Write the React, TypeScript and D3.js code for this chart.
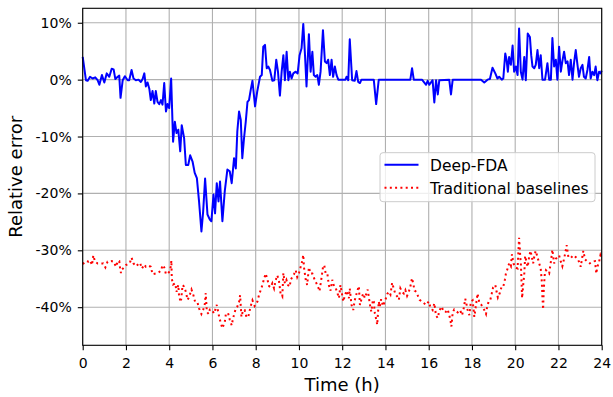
import React, { useEffect, useRef } from 'react';
import * as d3 from 'd3';

// Deep-FDA relative error (%) over the day
const deepFdaHours = [
  0, 0.15, 0.23, 0.34, 0.46, 0.58, 0.69, 0.77, 0.89, 1.0, 1.11, 1.23, 1.34, 1.43, 1.51, 1.62, 1.69, 1.75, 1.85, 1.95,
  2.08, 2.15, 2.26, 2.35, 2.46, 2.58, 2.69, 2.77, 2.85, 2.92, 3.0, 3.08, 3.15, 3.23, 3.31, 3.38, 3.46, 3.54, 3.62, 3.69,
  3.77, 3.85, 3.92, 4.0, 4.09, 4.18, 4.26, 4.34, 4.42, 4.51, 4.58, 4.69, 4.77, 4.88, 4.97, 5.08, 5.18, 5.28, 5.38, 5.49,
  5.57, 5.66, 5.77, 5.88, 5.95, 6.05, 6.12, 6.2, 6.28, 6.35, 6.46, 6.57, 6.69, 6.8, 6.89, 7.0, 7.08, 7.15, 7.23, 7.31,
  7.38, 7.46, 7.54, 7.62, 7.69, 7.77, 7.85, 7.97, 8.07, 8.2, 8.28, 8.35, 8.43, 8.51, 8.58, 8.66, 8.77, 8.86, 8.95, 9.03,
  9.12, 9.2, 9.28, 9.35, 9.43, 9.51, 9.58, 9.66, 9.74, 9.85, 9.94, 10.03, 10.12, 10.2, 10.28, 10.35, 10.46, 10.54, 10.62, 10.69,
  10.77, 10.85, 10.92, 11.0, 11.11, 11.2, 11.28, 11.35, 11.43, 11.51, 11.58, 11.66, 11.74, 11.82, 12.15, 12.2, 12.28, 12.35, 12.46, 12.58,
  12.66, 12.74, 12.82, 12.89, 13.46, 13.57, 13.69, 15.15, 15.23, 15.31, 15.69, 15.88, 15.95, 16.03, 16.18, 16.26, 16.34, 16.42, 16.49, 16.95,
  17.03, 17.11, 18.42, 18.57, 18.72, 18.83, 18.95, 19.08, 19.18, 19.26, 19.38, 19.45, 19.54, 19.6, 19.66, 19.72, 19.8, 19.88, 19.95, 20.03,
  20.11, 20.18, 20.26, 20.34, 20.42, 20.49, 20.58, 20.68, 20.74, 20.8, 20.88, 20.95, 21.03, 21.11, 21.18, 21.26, 21.38, 21.49, 21.57, 21.65,
  21.72, 21.8, 21.88, 21.95, 22.03, 22.11, 22.18, 22.26, 22.34, 22.42, 22.49, 22.57, 22.65, 22.72, 22.8, 22.88, 22.95, 23.03, 23.11, 23.18,
  23.26, 23.34, 23.42, 23.49, 23.57, 23.65, 23.72, 23.8, 23.88, 23.95, 24.0
];
const deepFdaError = [
  4.0, -0.1, -0.2, 0.5, 0.2, 0.4, -0.1, -0.9, 0.8, -0.5, 1.1, 0.5, 1.9, 1.8, 0.1, 0.5, 0.7, -3.2, -0.1, 0.6,
  -0.1, -0.1, 1.7, 0.2, -0.1, 0, -0.4, 0.1, 1.1, -1.2, -0.5, -1.6, -3.6, -2.0, -4.2, -2.0, -3.9, -4.3, -3.6, -4.4,
  -0.6, -5.6, -4.3, -5.0, 0.2, -10.9, -7.4, -9.4, -8.8, -12.6, -8.0, -10.3, -15.0, -15.0, -13.3, -14.4, -16.4, -17.3, -21.4, -26.7,
  -23.2, -17.4, -23.7, -24.6, -24.9, -20.2, -23.5, -18.2, -21.4, -17.9, -24.9, -19.6, -15.8, -16.1, -18.2, -13.8, -15.6, -9.1, -5.6, -7.1,
  -13.8, -10.3, -7.4, -3.9, -3.6, -1.8, -0.2, -4.7, -2.1, 0.5, 0.8, 5.8, 6.1, 2.0, 2.3, 1.7, -0.2, -0.1, 3.5, 1.4,
  -2.8, 1.4, 4.3, -0.1, 4.9, -0.1, 1.4, 0.2, 1.1, 1.4, 1.1, 4.3, 5.5, 9.8, 4.3, -1.2, 8.0, 1.4, 4.9, 0.8,
  0.5, 0.8, -0.9, 1.4, 8.7, 3.2, 2.9, 3.5, 0.8, 3.5, 0.5, 2.3, 0.8, 0, 0, 0.5, -0.1, 7.1, -0.1, -0.2,
  1.5, -0.4, -0.6, 0, 0, -4.3, 0, 0, 2.0, 0, 0, -0.9, -0.2, -0.9, -0.1, -4.0, -0.1, -2.6, -0.1, 0,
  -2.6, 0, 0, -0.5, 0, 0.1, 2.1, 1.1, 0.2, 0.5, 0, 0.2, 4.6, 3.5, 1.4, 4.0, 2.6, 6.0, 1.4, 2.3,
  0.8, 9.0, 1.4, 0, 4.0, -0.1, 8.1, 7.5, 4.3, 2.3, 2.0, 2.6, 5.2, 2.0, 4.3, 0, 0, 2.9, 0, 0,
  7.3, 2.3, 3.5, 0, 5.8, 1.4, 3.2, 4.9, 2.9, 3.2, 0.8, 3.5, 0, 2.9, 5.2, 2.6, 0.5, 2.0, 2.6, 0.5,
  0.2, 1.7, 4.0, 0.2, 1.4, 0.8, 2.3, -0.1, 1.4, 1.1, 1.6
];

// Traditional baselines relative error (%)
const baselineHours = [
  0, 0.08, 0.15, 0.28, 0.35, 0.43, 0.49, 0.57, 0.69, 0.8, 0.95, 1.05, 1.15, 1.26, 1.34, 1.43, 1.54, 1.62, 1.69, 1.72,
  1.77, 1.82, 2.0, 2.18, 2.26, 2.35, 2.46, 2.65, 2.74, 2.85, 2.92, 3.03, 3.15, 3.23, 3.46, 3.62, 3.69, 3.77, 3.85, 3.92,
  4.0, 4.08, 4.1, 4.12, 4.18, 4.28, 4.34, 4.42, 4.46, 4.54, 4.62, 4.69, 4.77, 4.85, 4.92, 5.03, 5.12, 5.2, 5.31, 5.38,
  5.49, 5.57, 5.65, 5.69, 5.74, 5.82, 5.88, 5.95, 6.08, 6.15, 6.2, 6.31, 6.38, 6.46, 6.51, 6.57, 6.62, 6.72, 6.8, 6.89,
  6.95, 7.08, 7.15, 7.23, 7.28, 7.34, 7.42, 7.49, 7.57, 7.65, 7.77, 7.85, 7.95, 8.08, 8.15, 8.23, 8.31, 8.38, 8.46, 8.54,
  8.62, 8.69, 8.77, 8.85, 8.92, 9.0, 9.08, 9.15, 9.23, 9.28, 9.35, 9.42, 9.49, 9.57, 9.62, 9.69, 9.77, 9.85, 9.92, 10.0,
  10.08, 10.15, 10.2, 10.23, 10.31, 10.38, 10.46, 10.54, 10.62, 10.72, 10.82, 10.89, 10.95, 11.03, 11.11, 11.17, 11.23, 11.31, 11.38, 11.46,
  11.54, 11.62, 11.69, 11.77, 11.85, 11.92, 12.05, 12.12, 12.2, 12.31, 12.35, 12.43, 12.51, 12.58, 12.65, 12.72, 12.77, 12.82, 12.89, 12.97,
  13.05, 13.11, 13.18, 13.26, 13.31, 13.35, 13.42, 13.46, 13.51, 13.57, 13.62, 13.69, 13.74, 13.8, 13.89, 14.0, 14.08, 14.15, 14.23, 14.31,
  14.38, 14.46, 14.54, 14.62, 14.69, 14.77, 14.85, 14.92, 15.0, 15.08, 15.15, 15.23, 15.28, 15.35, 15.43, 15.51, 15.58, 15.75, 15.88, 16.0,
  16.08, 16.18, 16.26, 16.34, 16.42, 16.49, 16.6, 16.69, 16.8, 16.88, 16.95, 17.0, 17.05, 17.11, 17.18, 17.34, 17.45, 17.54, 17.62, 17.69,
  17.75, 17.8, 17.88, 17.95, 18.03, 18.11, 18.18, 18.26, 18.34, 18.42, 18.57, 18.65, 18.69, 18.77, 18.85, 18.91, 18.98, 19.08, 19.14, 19.2,
  19.29, 19.37, 19.45, 19.52, 19.57, 19.65, 19.72, 19.8, 19.85, 19.92, 20.0, 20.11, 20.18, 20.2, 20.22, 20.23, 20.26, 20.29, 20.31, 20.32,
  20.37, 20.42, 20.46, 20.52, 20.58, 20.65, 20.71, 20.77, 20.83, 20.89, 20.95, 21.03, 21.11, 21.18, 21.23, 21.26, 21.28, 21.29, 21.32, 21.37,
  21.42, 21.49, 21.57, 21.65, 21.72, 21.8, 21.88, 21.95, 22.03, 22.11, 22.18, 22.26, 22.34, 22.38, 22.46, 22.57, 22.65, 22.72, 22.8, 22.88,
  22.95, 23.03, 23.11, 23.15, 23.23, 23.34, 23.45, 23.57, 23.69, 23.75, 23.8, 23.88, 23.94, 24.0
];
const baselineError = [
  -32.4, -32.2, -31.9, -32.0, -31.8, -32.6, -30.9, -32.0, -32.3, -32.3, -32.3, -33.0, -32.0, -32.0, -31.9, -32.0, -32.9, -31.9, -31.9, -32.9,
  -34.0, -33.4, -32.6, -32.2, -31.3, -32.3, -32.8, -32.2, -33.2, -32.5, -32.9, -32.7, -32.9, -34.2, -34.0, -33.6, -32.6, -33.0, -34.2, -34.1,
  -33.8, -32.8, -31.8, -35.0, -36.0, -35.8, -37.3, -36.1, -38.2, -39.1, -36.1, -36.4, -37.3, -38.7, -38.2, -36.9, -37.9, -39.1, -39.2, -40.2,
  -41.2, -40.5, -39.4, -37.5, -40.8, -41.2, -40.4, -40.4, -41.1, -40.2, -39.6, -41.7, -42.7, -43.7, -43.2, -42.6, -41.2, -41.0, -42.2, -43.2,
  -42.0, -40.2, -39.9, -39.1, -37.9, -41.7, -40.5, -40.5, -41.7, -41.8, -39.8, -38.8, -39.8, -39.0, -37.9, -37.0, -36.1, -35.1, -34.1, -35.1,
  -36.3, -36.5, -35.8, -36.7, -35.3, -34.4, -35.5, -37.6, -38.1, -34.0, -35.8, -35.2, -36.1, -36.4, -35.2, -34.7, -34.2, -33.5, -34.7, -34.0,
  -32.9, -31.9, -30.8, -32.9, -35.1, -36.1, -33.0, -34.1, -34.1, -35.1, -35.9, -36.5, -37.2, -35.2, -33.0, -32.6, -34.0, -34.0, -36.1, -37.1,
  -35.2, -36.3, -36.5, -37.4, -38.4, -36.1, -39.0, -38.0, -37.1, -38.4, -36.7, -39.6, -40.5, -38.8, -37.8, -36.9, -36.3, -39.6, -38.6, -37.6,
  -38.4, -37.7, -36.9, -39.0, -40.2, -40.8, -38.7, -39.0, -41.1, -42.1, -43.1, -39.0, -39.9, -38.6, -39.8, -38.7, -37.7, -37.3, -37.8, -35.7,
  -36.7, -37.7, -38.1, -38.7, -36.7, -37.3, -37.6, -37.0, -38.0, -37.3, -36.4, -34.9, -35.8, -37.1, -37.3, -38.1, -38.7, -39.2, -39.6, -39.0,
  -40.0, -40.5, -39.3, -41.5, -41.9, -40.6, -39.9, -40.8, -40.8, -40.4, -41.4, -42.2, -43.4, -40.9, -40.4, -40.9, -40.5, -41.4, -40.2, -38.5,
  -39.5, -40.5, -41.4, -39.0, -38.8, -41.7, -39.8, -37.6, -39.2, -39.5, -40.5, -41.2, -40.2, -39.0, -38.7, -37.7, -36.5, -36.1, -37.3, -38.3,
  -37.5, -36.4, -36.4, -35.2, -34.1, -33.2, -32.3, -32.8, -30.7, -32.3, -33.0, -33.2, -27.8, -29.0, -30.0, -31.0, -32.2, -35.2, -37.4, -38.4,
  -36.1, -34.1, -31.0, -32.0, -32.9, -31.0, -30.1, -31.2, -32.3, -30.9, -30.1, -31.2, -32.3, -33.2, -35.5, -38.4, -39.6, -40.4, -37.0, -34.1,
  -33.5, -33.8, -34.1, -32.0, -29.9, -32.3, -31.5, -31.2, -30.9, -32.0, -32.8, -31.5, -30.0, -29.1, -31.2, -31.0, -31.3, -31.0, -31.2, -31.5,
  -32.0, -32.9, -31.0, -30.1, -31.6, -32.0, -32.3, -32.0, -31.9, -34.1, -32.9, -32.0, -30.9, -31.5
];

const xTicks = [0, 2, 4, 6, 8, 10, 12, 14, 16, 18, 20, 22, 24];
const yTicks = [-40, -30, -20, -10, 0, 10];
const seriesNames = ['Deep-FDA', 'Traditional baselines'];

const W = 613;
const H = 397;
const FONT = '"DejaVu Sans", sans-serif';

const App: React.FC = () => {
  const svgRef = useRef<SVGSVGElement>(null);

  useEffect(() => {
    const margin = { top: 8.3, right: 11.3, bottom: 51.7, left: 82.7 };
    const svg = d3.select(svgRef.current);
    svg.selectAll('*').remove();

    const x = d3.scaleLinear().domain([0, 24]).range([margin.left, W - margin.right]);
    const y = d3.scaleLinear().domain([-46.7, 12.54]).range([H - margin.bottom, margin.top]);

    // grid
    const grid = svg.append('g').attr('stroke', '#b0b0b0').attr('stroke-width', 1.1);
    grid.selectAll('.gx').data(xTicks).enter().append('line')
      .attr('x1', d => x(d)).attr('x2', d => x(d))
      .attr('y1', margin.top).attr('y2', H - margin.bottom);
    grid.selectAll('.gy').data(yTicks).enter().append('line')
      .attr('x1', margin.left).attr('x2', W - margin.right)
      .attr('y1', d => y(d)).attr('y2', d => y(d));

    const blue = deepFdaHours.map((h, i) => [h, deepFdaError[i]] as [number, number]);
    const red = baselineHours.map((h, i) => [h, baselineError[i]] as [number, number]);
    const line = d3.line<[number, number]>().x(d => x(d[0])).y(d => y(d[1]));

    svg.append('path').datum(red)
      .attr('fill', 'none').attr('stroke', '#ff0000').attr('stroke-width', 2)
      .attr('stroke-dasharray', '2,3.3').attr('d', line);

    svg.append('path').datum(blue)
      .attr('fill', 'none').attr('stroke', '#0000ff').attr('stroke-width', 2)
      .attr('stroke-linejoin', 'round').attr('d', line);

    // axes
    const xAxis = svg.append('g')
      .attr('transform', `translate(0,${H - margin.bottom})`)
      .call(d3.axisBottom(x).tickValues(xTicks).tickSize(4.9).tickPadding(7.9).tickSizeOuter(0));
    const yAxis = svg.append('g')
      .attr('transform', `translate(${margin.left},0)`)
      .call(d3.axisLeft(y).tickValues(yTicks).tickSize(4.9).tickPadding(6.1).tickSizeOuter(0)
        .tickFormat(d => `${d}%`));
    [xAxis, yAxis].forEach(a => {
      a.select('.domain').remove();
      a.selectAll('text').attr('font-family', FONT).attr('font-size', 14).attr('fill', '#000');
      a.selectAll('line').attr('stroke', '#000').attr('stroke-width', 1.1);
    });

    svg.append('rect')
      .attr('x', margin.left).attr('y', margin.top)
      .attr('width', W - margin.left - margin.right).attr('height', H - margin.top - margin.bottom)
      .attr('fill', 'none').attr('stroke', '#000').attr('stroke-width', 1.1);

    // labels
    svg.append('text')
      .attr('x', (margin.left + W - margin.right) / 2).attr('y', 391)
      .attr('text-anchor', 'middle').attr('font-family', FONT).attr('font-size', 18)
      .text('Time (h)');
    svg.append('text')
      .attr('transform', `translate(22,${(margin.top + H - margin.bottom) / 2}) rotate(-90)`)
      .attr('text-anchor', 'middle').attr('font-family', FONT).attr('font-size', 18)
      .text('Relative error');

    // legend
    const lg = svg.append('g');
    lg.append('rect')
      .attr('x', 380).attr('y', 152.7).attr('width', 215).attr('height', 49).attr('rx', 3)
      .attr('fill', '#fff').attr('fill-opacity', 0.8).attr('stroke', '#cccccc').attr('stroke-width', 1);
    const styles = [
      { color: '#0000ff', dash: null },
      { color: '#ff0000', dash: '2,3.3' }
    ];
    seriesNames.forEach((name, i) => {
      const ly = 164.7 + i * 23;
      lg.append('line')
        .attr('x1', 384.5).attr('x2', 418.5).attr('y1', ly).attr('y2', ly)
        .attr('stroke', styles[i].color).attr('stroke-width', 2)
        .attr('stroke-dasharray', styles[i].dash);
      lg.append('text')
        .attr('x', 430).attr('y', ly + 5.8)
        .attr('font-family', FONT).attr('font-size', 15.5)
        .text(name);
    });
  }, []);

  return (
    <svg ref={svgRef} width={W} height={H}
      style={{ position: 'absolute', left: 0, top: 0, background: '#fff' }} />
  );
};

export default App;
